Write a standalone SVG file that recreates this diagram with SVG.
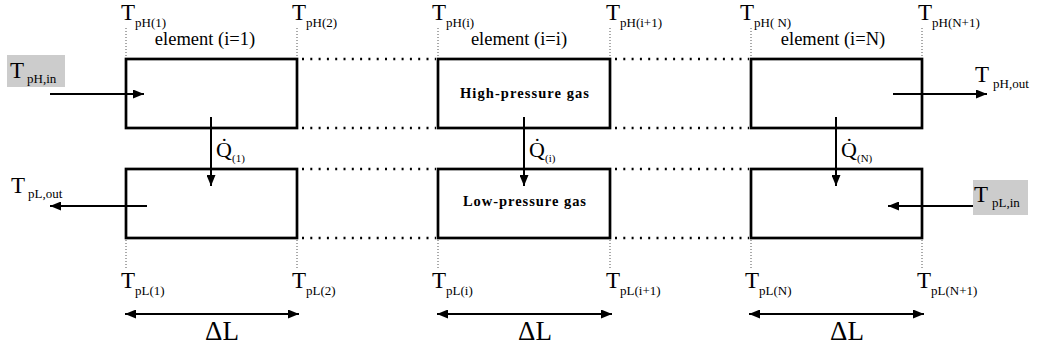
<svg xmlns="http://www.w3.org/2000/svg" width="1037" height="352" viewBox="0 0 1037 352">
<style>
.box{fill:none;stroke:#000;stroke-width:2.7}
.dot{stroke:#000;stroke-width:2.5;stroke-dasharray:2 6.3;fill:none}
.vdot{stroke:#555;stroke-width:1;stroke-dasharray:1 2;fill:none}
.arr{stroke:#000;stroke-width:2;fill:none}
text{font-family:'Liberation Serif','Times New Roman','DejaVu Serif',serif;fill:#000}
.T{font-size:23px}
.s{font-size:13px}
.el{font-size:18.5px}
.gas{font-size:14.5px;font-weight:bold}
.dl{font-size:27px}
.q{font-size:22px}
.qs{font-size:11px}
.hl{fill:#cccccc}
</style>
<defs>
<marker id="ah" viewBox="0 0 11 9" refX="11" refY="4.5" markerWidth="11" markerHeight="9" markerUnits="userSpaceOnUse" orient="auto-start-reverse">
<path d="M0,0 L11,4.5 L0,9 Z" fill="#000"/>
</marker>
</defs>

<g id="connectors">
<path class="dot" d="M302,59H436 M302,128H436 M302,169H436 M302,238H436 M615,59H749 M615,128H749 M615,169H749 M615,238H749"/>
<path class="vdot" d="M126,28V58 M297,28V58 M438,28V58 M610,28V58 M751,28V58 M922,28V58"/>
<path class="vdot" d="M126,240V270 M297,240V270 M438,240V270 M610,240V270 M751,240V270 M922,240V270"/>
<path class="arr" d="M50,94H144" marker-end="url(#ah)"/>
<path class="arr" d="M147,206H50" marker-end="url(#ah)"/>
<path class="arr" d="M893,94H987" marker-end="url(#ah)"/>
<path class="arr" d="M973,206H888" marker-end="url(#ah)"/>
<path class="arr" d="M211,117V186" marker-end="url(#ah)"/>
<path class="arr" d="M524,117V186" marker-end="url(#ah)"/>
<path class="arr" d="M836,117V186" marker-end="url(#ah)"/>
<path class="arr" d="M125,314H299" marker-start="url(#ah)" marker-end="url(#ah)"/>
<path class="arr" d="M437,314H612" marker-start="url(#ah)" marker-end="url(#ah)"/>
<path class="arr" d="M749,314H924" marker-start="url(#ah)" marker-end="url(#ah)"/>
</g>

<g id="inlet-hp">
<rect class="hl" x="7" y="55" width="58" height="32"/>
<text class="T" x="10" y="78">T</text><text class="s" x="27" y="83">pH,in</text>
</g>
<g id="outlet-lp">
<text class="T" x="11" y="193">T</text><text class="s" x="28" y="198">pL,out</text>
</g>
<g id="outlet-hp">
<text class="T" x="975" y="82">T</text><text class="s" x="993" y="88">pH,out</text>
</g>
<g id="inlet-lp">
<rect class="hl" x="973" y="180" width="55" height="35"/>
<text class="T" x="974" y="202">T</text><text class="s" x="992" y="207">pL,in</text>
</g>

<g id="element-1">
<rect class="box" x="126" y="59" width="171" height="69"/>
<rect class="box" x="126" y="169" width="171" height="69"/>
<text class="el" x="205" y="45" text-anchor="middle">element (i=1)</text>
<text class="T" x="121" y="20">T</text><text class="s" x="135" y="27">pH(1)</text>
<text class="T" x="292" y="20">T</text><text class="s" x="306" y="27">pH(2)</text>
<text class="T" x="121" y="288">T</text><text class="s" x="135" y="295">pL(1)</text>
<text class="T" x="292" y="288">T</text><text class="s" x="306" y="295">pL(2)</text>
<text class="q" x="216" y="157">Q̇</text><text class="qs" x="232" y="162">(1)</text>
<text class="dl" x="222" y="340" text-anchor="middle">ΔL</text>
</g>

<g id="element-i">
<rect class="box" x="438" y="59" width="172" height="69"/>
<rect class="box" x="438" y="169" width="172" height="69"/>
<text class="el" x="519" y="45" text-anchor="middle">element (i=i)</text>
<text class="gas" x="524.5" y="98" text-anchor="middle" textLength="129">High-pressure gas</text>
<text class="gas" x="524.5" y="206" text-anchor="middle" textLength="123">Low-pressure gas</text>
<text class="T" x="432" y="20">T</text><text class="s" x="446" y="27">pH(i)</text>
<text class="T" x="606" y="20">T</text><text class="s" x="620" y="27">pH(i+1)</text>
<text class="T" x="432" y="288">T</text><text class="s" x="446" y="295">pL(i)</text>
<text class="T" x="606" y="288">T</text><text class="s" x="620" y="295">pL(i+1)</text>
<text class="q" x="529" y="157">Q̇</text><text class="qs" x="545" y="162">(i)</text>
<text class="dl" x="535" y="340" text-anchor="middle">ΔL</text>
</g>

<g id="element-N">
<rect class="box" x="751" y="59" width="171" height="69"/>
<rect class="box" x="751" y="169" width="171" height="69"/>
<text class="el" x="833" y="45" text-anchor="middle">element (i=N)</text>
<text class="T" x="740" y="20">T</text><text class="s" x="754" y="27">pH( N)</text>
<text class="T" x="918" y="20">T</text><text class="s" x="932" y="27">pH(N+1)</text>
<text class="T" x="745" y="288">T</text><text class="s" x="759" y="295">pL(N)</text>
<text class="T" x="917" y="288">T</text><text class="s" x="931" y="295">pL(N+1)</text>
<text class="q" x="841" y="157">Q̇</text><text class="qs" x="857" y="162">(N)</text>
<text class="dl" x="847" y="340" text-anchor="middle">ΔL</text>
</g>
</svg>
